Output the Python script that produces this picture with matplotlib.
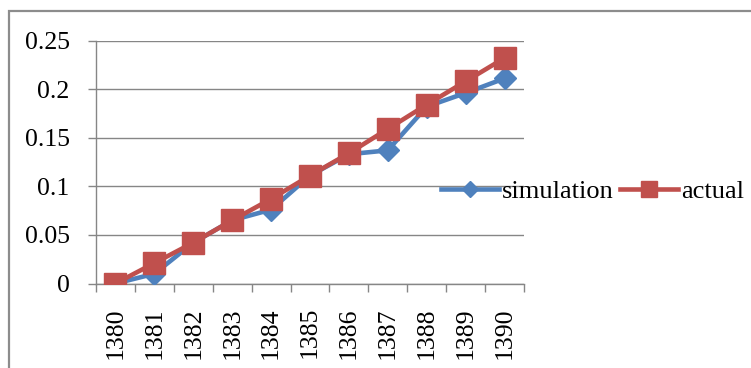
import matplotlib
matplotlib.use("Agg")
import matplotlib.pyplot as plt
from matplotlib.patches import Rectangle
from matplotlib.lines import Line2D

years = ["1380", "1381", "1382", "1383", "1384", "1385",
         "1386", "1387", "1388", "1389", "1390"]
simulation = [0.000, 0.010, 0.042, 0.065, 0.076, 0.111,
              0.133, 0.137, 0.182, 0.196, 0.211]
actual = [0.000, 0.021, 0.042, 0.065, 0.087, 0.111,
          0.134, 0.159, 0.184, 0.208, 0.232]
yticks = [0, 0.05, 0.1, 0.15, 0.2, 0.25]
ytick_labels = ["0", "0.05", "0.1", "0.15", "0.2", "0.25"]

BLUE = "#4f81bd"
RED = "#c0504d"
GRID = "#868686"

plt.rcParams["font.family"] = ["Liberation Serif", "DejaVu Serif"]

W, H = 751, 368
fig = plt.figure(figsize=(W / 100, H / 100), dpi=100)
ax = fig.add_axes([96 / W, 1 - 283.5 / H, (524 - 96) / W, (283.5 - 40.5) / H])

x = list(range(len(years)))
ax.plot(x, simulation, color=BLUE, lw=3.3, marker="D", ms=11,
        mfc=BLUE, mec=BLUE, zorder=3, solid_joinstyle="round")
ax.plot(x, actual, color=RED, lw=3.3, marker="s", ms=15.5,
        mfc=RED, mec=RED, zorder=4, solid_joinstyle="round")

ax.set_xlim(-0.5, len(years) - 0.5)
ax.set_ylim(0, 0.25)
ax.set_yticks(yticks)
ax.set_yticklabels(ytick_labels)
ax.set_xticks(x)
ax.set_xticklabels(years, rotation=90)
ax.set_xticks([i - 0.5 for i in range(len(years) + 1)], minor=True)

ax.tick_params(axis="x", which="major", length=0, pad=17, labelsize=18.5)
ax.tick_params(axis="x", which="minor", length=6, width=1, color=GRID, direction="out")
ax.tick_params(axis="y", length=6, width=1, color=GRID, pad=13, labelsize=18.5)
for lab in ax.get_xticklabels():
    lab.set_va("top")

ax.grid(axis="y", color=GRID, lw=1)
ax.set_axisbelow(True)
for side in ["top", "right"]:
    ax.spines[side].set_visible(False)
for side in ["left", "bottom"]:
    ax.spines[side].set_color(GRID)
    ax.spines[side].set_linewidth(1)

handles = [
    Line2D([], [], color=BLUE, lw=3.3, marker="D", ms=8.5, mfc=BLUE, mec=BLUE),
    Line2D([], [], color=RED, lw=3.3, marker="s", ms=11.5, mfc=RED, mec=RED),
]
fig.legend(handles, ["simulation", "actual"], loc="center left",
           bbox_to_anchor=(441 / W, 1 - 191 / H), ncol=2, frameon=False,
           fontsize=19, handlelength=2.2, handletextpad=0.1,
           columnspacing=0.25, borderpad=0, borderaxespad=0)

# outer chart border
fig.patches.append(Rectangle((9 / W, -0.2), 1.2, 1 - 11 / H + 0.2,
                             transform=fig.transFigure, fill=False,
                             edgecolor="#8c8c8c", lw=1.6))

fig.savefig("out.png", dpi=100)
